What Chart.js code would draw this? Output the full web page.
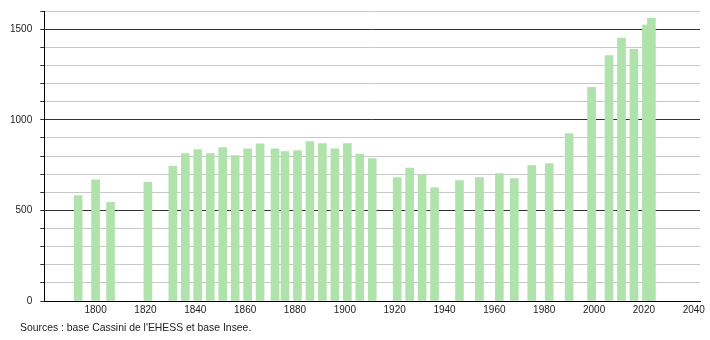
<!DOCTYPE html>
<html>
<head>
<meta charset="utf-8">
<script src="https://cdn.jsdelivr.net/npm/chart.js@4/dist/chart.umd.min.js"></script>
<style>
  html, body { margin: 0; padding: 0; background: #fff; }
  #wrap { position: relative; width: 710px; height: 340px; }
  #source {
    position: absolute; left: 20px; top: 322px;
    font: 10.4px "Liberation Sans", Arial, sans-serif; color: #222;
  }
</style>
</head>
<body>
<div id="wrap">
  <canvas id="chart" width="710" height="340"></canvas>
  <div id="source">Sources : base Cassini de l'EHESS et base Insee.</div>
</div>
<script>
// ================= DATA =================
const years = [1793, 1800, 1806, 1821, 1831, 1836, 1841, 1846, 1851, 1856, 1861, 1866, 1872, 1876,
  1881, 1886, 1891, 1896, 1901, 1906, 1911, 1921, 1926, 1931, 1936, 1946, 1954, 1962, 1968,
  1975, 1982, 1990, 1999, 2006, 2011, 2016, 2021, 2023];
const population = [581, 668, 544, 655, 743, 814, 836, 814, 847, 802, 840, 867, 840, 825,
  830, 880, 869, 840, 869, 810, 786, 681, 733, 697, 624, 665, 681, 703, 675,
  747, 758, 924, 1179, 1354, 1450, 1389, 1522, 1561];
const xTicks = [1800, 1820, 1840, 1860, 1880, 1900, 1920, 1940, 1960, 1980, 2000, 2020, 2040];
const yLabels = [0, 500, 1000, 1500];

// ================= CHART =================
const ctx = document.getElementById("chart").getContext("2d");
new Chart(ctx, {
  type: "bar",
  data: {
    datasets: [{
      data: years.map((y, i) => ({ x: y, y: population[i] })),
      backgroundColor: "rgb(176,226,172)",
      borderWidth: 0,
      barThickness: 8
    }]
  },
  options: {
    responsive: false,
    animation: false,
    layout: { padding: { left: 2, right: 10, top: 11, bottom: 21 } },
    plugins: { legend: { display: false }, tooltip: { enabled: false } },
    font: { family: "'Liberation Sans', Arial, sans-serif" },
    scales: {
      x: {
        type: "linear",
        offset: false,
        min: 1779.4,
        max: 2042.5,
        afterBuildTicks: scale => { scale.ticks = xTicks.map(v => ({ value: v })); },
        grid: { display: false, drawTicks: false },
        border: { color: "#000", width: 1 },
        ticks: { padding: 3, color: "#222", font: { size: 10 }, maxRotation: 0, callback: v => String(v) }
      },
      y: {
        min: 0,
        max: 1600,
        afterFit: scale => { scale.paddingTop = 0; scale.paddingBottom = 0; },
        ticks: {
          stepSize: 100,
          padding: 8,
          color: "#222",
          font: { size: 10 },
          callback: v => (yLabels.includes(v) ? String(v) : "")
        },
        grid: {
          color: c => (c.tick.value % 500 === 0 ? "#333" : "#c8c8c8"),
          tickColor: "#333",
          tickLength: 4
        },
        border: { color: "#000", width: 1 }
      }
    }
  }
});
</script>
</body>
</html>
